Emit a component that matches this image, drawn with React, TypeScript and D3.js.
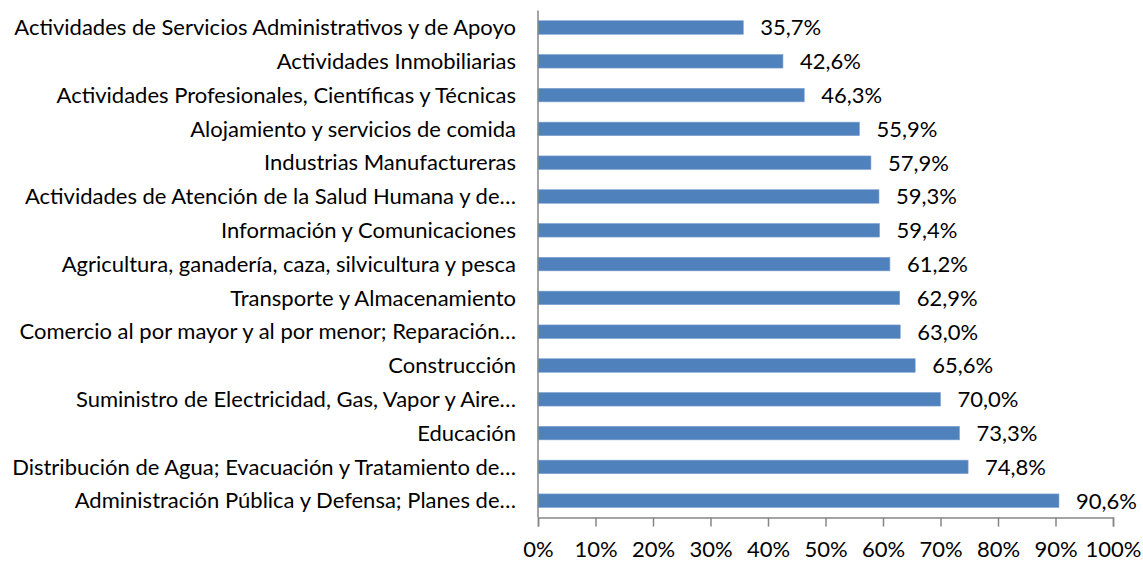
import React, { useRef, useEffect } from 'react';
import * as d3 from 'd3';

const categories = [
  'Actividades de Servicios Administrativos y de Apoyo',
  'Actividades Inmobiliarias',
  'Actividades Profesionales, Científicas y Técnicas',
  'Alojamiento y servicios de comida',
  'Industrias Manufactureras',
  'Actividades de Atención de la Salud Humana y de…',
  'Información y Comunicaciones',
  'Agricultura, ganadería, caza, silvicultura y pesca',
  'Transporte y Almacenamiento',
  'Comercio al por mayor y al por menor; Reparación…',
  'Construcción',
  'Suministro de Electricidad, Gas, Vapor y Aire…',
  'Educación',
  'Distribución de Agua; Evacuación y Tratamiento de…',
  'Administración Pública y Defensa; Planes de…',
];

const values = [35.7, 42.6, 46.3, 55.9, 57.9, 59.3, 59.4, 61.2, 62.9, 63.0, 65.6, 70.0, 73.3, 74.8, 90.6];

const ticks = [0, 10, 20, 30, 40, 50, 60, 70, 80, 90, 100];

const BarChart = () => {
  const svgRef = useRef<SVGSVGElement>(null);

  useEffect(() => {
    const svg = d3.select(svgRef.current);
    svg.selectAll('*').remove();

    const width = 1143;
    const height = 562;
    const margin = { top: 10.6, right: 30, bottom: 44.4, left: 538 };
    const font = 'Lato, "Open Sans", sans-serif';

    svg.attr('width', width).attr('height', height);

    const x = d3.scaleLinear()
      .domain([0, 100])
      .range([margin.left, 1113]);

    const y = d3.scaleBand()
      .domain(categories)
      .range([margin.top, height - margin.bottom])
      .paddingInner(0.6)
      .paddingOuter(0.3);

    const data = categories.map((c, i) => ({ name: c, value: values[i] }));

    // bars
    svg.append('g')
      .selectAll('rect')
      .data(data)
      .join('rect')
      .attr('x', x(0))
      .attr('y', d => y(d.name)!)
      .attr('width', d => x(d.value) - x(0))
      .attr('height', y.bandwidth())
      .attr('fill', '#4F81BD')
      .attr('stroke', '#7DA0CF')
      .attr('stroke-width', 0.6);

    // value labels
    svg.append('g')
      .selectAll('text')
      .data(data)
      .join('text')
      .attr('x', d => x(d.value) + 17)
      .attr('y', d => y(d.name)! + y.bandwidth() / 2)
      .attr('dy', '0.36em')
      .attr('font-family', font)
      .attr('font-size', 22)
      .attr('fill', '#000')
      .text(d => d.value.toFixed(1).replace('.', ',') + '%');

    // category labels
    svg.append('g')
      .selectAll('text')
      .data(data)
      .join('text')
      .attr('x', 516)
      .attr('y', d => y(d.name)! + y.bandwidth() / 2)
      .attr('dy', '0.35em')
      .attr('text-anchor', 'end')
      .attr('font-family', font)
      .attr('font-size', 22)
      .attr('fill', '#000')
      .text(d => d.name);

    const axisY = height - margin.bottom;

    // vertical axis line
    svg.append('line')
      .attr('x1', x(0)).attr('x2', x(0))
      .attr('y1', margin.top).attr('y2', axisY)
      .attr('stroke', '#868686')
      .attr('stroke-width', 1.5);

    // horizontal axis
    const xAxis = svg.append('g')
      .attr('transform', `translate(0, ${axisY})`)
      .call(d3.axisBottom(x).tickValues(ticks).tickSize(9).tickSizeOuter(9).tickPadding(15).tickFormat(d => `${d}%`));

    xAxis.select('.domain').attr('stroke', '#868686').attr('stroke-width', 1.5);
    xAxis.selectAll('.tick line').attr('stroke', '#868686').attr('stroke-width', 1.5);
    xAxis.selectAll('.tick text')
      .attr('font-family', font)
      .attr('font-size', 22)
      .attr('fill', '#000');
  }, []);

  return <svg ref={svgRef} style={{ position: 'absolute', left: 0, top: 0 }}></svg>;
};

export default function App() {
  return <BarChart />;
}
